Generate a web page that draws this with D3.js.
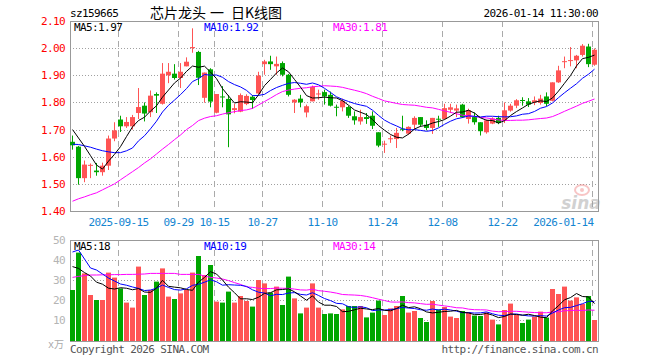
<!DOCTYPE html>
<html lang="zh-CN">
<head>
<meta charset="UTF-8">
<title>芯片龙头 日K线图</title>
<script src="https://cdn.jsdelivr.net/npm/d3@7"></script>
<style>
    body {
        margin: 0;
        background-color: #fff;
    }

    svg {
        display: block;
    }

    .mono {
        font-family: 'DejaVu Sans Mono', monospace;
        font-size: 11px;
        letter-spacing: -0.6px;
    }
</style>
</head>
<body>
<svg id="chart" width="660" height="360"></svg>
<script>
    // daily candles, 2025-09-03 .. 2026-01-14 (88 trading days)
    const opens = [1.655, 1.637, 1.521, 1.568, 1.549, 1.543, 1.567, 1.667, 1.737, 1.712,
        1.712, 1.761, 1.788, 1.764, 1.831, 1.795, 1.900, 1.906, 1.890, 1.933,
        2.000, 1.986, 1.817, 1.922, 1.762, 1.822, 1.813, 1.772, 1.766, 1.794,
        1.821, 1.833, 1.941, 1.951, 1.933, 1.945, 1.902, 1.800, 1.814, 1.763,
        1.804, 1.830, 1.838, 1.828, 1.784, 1.782, 1.783, 1.749, 1.730, 1.746,
        1.751, 1.690, 1.646, 1.666, 1.665, 1.703, 1.685, 1.718, 1.746, 1.718,
        1.706, 1.740, 1.739, 1.773, 1.770, 1.792, 1.739, 1.746, 1.727, 1.690,
        1.722, 1.743, 1.734, 1.770, 1.788, 1.809, 1.804, 1.800, 1.798, 1.822,
        1.806, 1.874, 1.950, 1.954, 1.955, 1.975, 2.006, 1.939];
    const highs = [1.678, 1.640, 1.586, 1.575, 1.577, 1.578, 1.678, 1.727, 1.751, 1.746,
        1.754, 1.853, 1.800, 1.844, 1.837, 1.945, 1.945, 1.941, 1.945, 1.966,
        2.073, 1.990, 1.910, 1.926, 1.831, 1.860, 1.827, 1.795, 1.833, 1.830,
        1.827, 1.913, 1.957, 1.972, 1.969, 1.951, 1.905, 1.812, 1.828, 1.792,
        1.862, 1.847, 1.847, 1.840, 1.792, 1.814, 1.788, 1.767, 1.773, 1.761,
        1.767, 1.690, 1.659, 1.678, 1.706, 1.751, 1.712, 1.749, 1.746, 1.734,
        1.743, 1.751, 1.795, 1.795, 1.792, 1.795, 1.777, 1.763, 1.727, 1.737,
        1.745, 1.751, 1.800, 1.795, 1.812, 1.819, 1.816, 1.822, 1.828, 1.837,
        1.874, 1.935, 1.969, 2.004, 1.975, 2.015, 2.016, 1.999];
    const lows = [1.626, 1.497, 1.506, 1.521, 1.530, 1.530, 1.551, 1.657, 1.691, 1.706,
        1.700, 1.739, 1.730, 1.746, 1.761, 1.792, 1.871, 1.884, 1.853, 1.933,
        1.983, 1.864, 1.799, 1.782, 1.760, 1.782, 1.635, 1.760, 1.764, 1.790,
        1.776, 1.830, 1.902, 1.920, 1.902, 1.896, 1.822, 1.761, 1.782, 1.745,
        1.804, 1.810, 1.792, 1.785, 1.749, 1.767, 1.743, 1.718, 1.718, 1.721,
        1.702, 1.635, 1.614, 1.651, 1.632, 1.694, 1.681, 1.700, 1.710, 1.697,
        1.684, 1.710, 1.737, 1.761, 1.746, 1.743, 1.722, 1.718, 1.678, 1.685,
        1.720, 1.720, 1.724, 1.766, 1.779, 1.788, 1.783, 1.790, 1.792, 1.786,
        1.804, 1.872, 1.926, 1.933, 1.926, 1.969, 1.930, 1.935];
    const closes = [1.642, 1.521, 1.571, 1.570, 1.543, 1.567, 1.667, 1.697, 1.712, 1.728,
        1.746, 1.783, 1.759, 1.825, 1.825, 1.906, 1.913, 1.890, 1.913, 1.950,
        2.004, 1.891, 1.910, 1.803, 1.831, 1.820, 1.756, 1.779, 1.827, 1.824,
        1.809, 1.899, 1.951, 1.941, 1.942, 1.902, 1.828, 1.810, 1.800, 1.786,
        1.857, 1.833, 1.822, 1.788, 1.782, 1.806, 1.751, 1.734, 1.746, 1.739,
        1.714, 1.641, 1.648, 1.668, 1.688, 1.701, 1.710, 1.743, 1.718, 1.706,
        1.743, 1.738, 1.779, 1.782, 1.778, 1.746, 1.771, 1.727, 1.694, 1.734,
        1.741, 1.724, 1.771, 1.788, 1.808, 1.807, 1.792, 1.808, 1.814, 1.795,
        1.874, 1.918, 1.952, 1.956, 1.972, 2.009, 1.941, 1.994];
    // volume, 万
    const volumes = [25, 43.7, 33.3, 22.5, 20, 20, 33.7, 31.2, 25.8, 18.7,
        16.2, 36.7, 22.5, 25, 29.2, 35.8, 21.7, 20.5, 23.3, 25,
        33.7, 42, 32.5, 37.5, 19.2, 18.7, 24.2, 18.7, 22, 19.5,
        16.7, 30, 28.3, 23.7, 26.7, 17.5, 31.7, 20.8, 13.3, 16.2,
        28.3, 16.2, 13, 13.3, 13, 15.3, 17, 17, 17, 11.3,
        13.7, 19.7, 12.5, 15.8, 17, 22, 13.7, 14.5, 11, 9,
        19.5, 15.3, 16.5, 11.7, 11, 14.5, 14, 12.2, 12, 13.8,
        10.2, 7.8, 15, 18.2, 12.5, 8.5, 10.2, 11.7, 14.2, 11.2,
        25.5, 23, 26.7, 19.7, 21.3, 18, 22, 10];

    // moving average values at the left edge (window reaches before the first candle)
    const ma5Lead = [1.700, 1.669, 1.638, 1.604];
    const ma10Lead = [1.646, 1.645, 1.640, 1.635, 1.628, 1.622, 1.618, 1.615, 1.615];
    const ma30Lead = [1.436, 1.445, 1.452, 1.460, 1.467, 1.478, 1.489, 1.500, 1.515, 1.530,
        1.545, 1.560, 1.577, 1.592, 1.610, 1.628, 1.645, 1.663, 1.680, 1.700,
        1.715, 1.733, 1.742, 1.748, 1.751, 1.757, 1.762, 1.766, 1.770];
    const volMa5Lead = [36.7, 35.8, 33.7, 32];
    const volMa10Lead = [44, 45, 40.5, 36, 35, 33, 31, 29.5, 28];
    const volMa30Lead = [31.3, 31.8, 32.2, 32.5, 32.5, 32.6, 32.6, 32.7, 32.7, 32.8,
        32.8, 32.9, 33, 33.3, 33.3, 33.3, 33.3, 33.3, 32.8, 32.8,
        32.8, 32.8, 32, 31.3, 31, 30.5, 29.7, 28.7, 27.8];

    const priceTicks = [2.10, 2.00, 1.90, 1.80, 1.70, 1.60, 1.50, 1.40];
    const volTicks = [50, 40, 30, 20, 10];
    const dateTickIndex = [8, 18, 24, 32, 42, 52, 62, 72, 87];
    const dateTickLabels = ["2025-09-15", "09-29", "10-15", "10-27", "11-10", "11-24", "12-08", "12-22", "2026-01-14"];

    const stockCode = "sz159665";
    const title = ["芯片龙头", "一", "日K线图"];
    const stamp = "2026-01-14 11:30:00";

    const UP = "#ff5454", DOWN = "#00a600";
    const MA_COLORS = ["#000", "#0000ff", "#ff00ff"];

    const left = 70, right = 598;
    const pTop = 21, pBottom = 211;
    const vTop = 240, vBottom = 341;

    const svg = d3.select("#chart");

    const x = d3.scaleLinear().domain([0, closes.length - 1]).range([72.5, 594.5]);
    const y = d3.scaleLinear().domain([1.40, 2.10]).range([pBottom, pTop]);
    const yv = d3.scaleLinear().domain([0, 50]).range([340, vTop]);

    function movingAvg(values, n, lead) {
        return values.map((v, i) => i < n - 1 ? lead[i] : d3.mean(values.slice(i - n + 1, i + 1)));
    }

    const ma5 = movingAvg(closes, 5, ma5Lead);
    const ma10 = movingAvg(closes, 10, ma10Lead);
    const ma30 = movingAvg(closes, 30, ma30Lead);
    const vma5 = movingAvg(volumes, 5, volMa5Lead);
    const vma10 = movingAvg(volumes, 10, volMa10Lead);
    const vma30 = movingAvg(volumes, 30, volMa30Lead);

    const isUp = i => closes[i] >= opens[i];

    // header
    svg.append("text").attr("class", "mono")
        .attr("x", left).attr("y", 17)
        .text(stockCode);
    svg.append("g")
        .attr("font-family", "'Noto Sans CJK SC', sans-serif")
        .attr("font-size", "14px")
        .selectAll("text")
        .data(title)
        .join("text")
        .attr("x", (d, i) => [150, 210, 231][i])
        .attr("y", 18)
        .text(d => d);
    svg.append("text").attr("class", "mono")
        .attr("x", right).attr("y", 17)
        .attr("text-anchor", "end")
        .text(stamp);

    // grids
    const grid = svg.append("g");
    grid.selectAll(".hp")
        .data(priceTicks.slice(1, -1))
        .join("line")
        .attr("x1", left).attr("x2", right)
        .attr("y1", d => Math.round(y(d)) + 0.5).attr("y2", d => Math.round(y(d)) + 0.5)
        .attr("stroke", "#a0a0a0").attr("stroke-dasharray", "1,2");
    grid.selectAll(".hv")
        .data(volTicks.slice(1))
        .join("line")
        .attr("x1", left).attr("x2", right)
        .attr("y1", d => Math.round(yv(d)) + 0.5).attr("y2", d => Math.round(yv(d)) + 0.5)
        .attr("stroke", "#a0a0a0").attr("stroke-dasharray", "1,2");
    [[pTop, pBottom], [vTop, vBottom]].forEach(([t, b]) => {
        grid.append("g").selectAll("line")
            .data(dateTickIndex)
            .join("line")
            .attr("x1", d => x(d) - 2).attr("x2", d => x(d) - 2)
            .attr("y1", t).attr("y2", b)
            .attr("stroke", "#aaa").attr("stroke-dasharray", "6,4");
    });

    // frames
    svg.append("rect")
        .attr("x", left + 0.5).attr("y", pTop + 0.5)
        .attr("width", right - left).attr("height", pBottom - pTop)
        .attr("fill", "none").attr("stroke", "#999");
    svg.append("rect")
        .attr("x", left + 0.5).attr("y", vTop + 0.5)
        .attr("width", right - left).attr("height", vBottom - vTop)
        .attr("fill", "none").attr("stroke", "#999");

    // watermark
    const wm = svg.append("g").attr("opacity", 0.45);
    wm.append("ellipse")
        .attr("cx", 582).attr("cy", 190).attr("rx", 7).attr("ry", 5)
        .attr("fill", "none").attr("stroke", "#f08080").attr("stroke-width", 2);
    wm.append("circle")
        .attr("cx", 582).attr("cy", 190).attr("r", 2)
        .attr("fill", "#f08080");
    wm.append("text")
        .attr("x", 581).attr("y", 209)
        .attr("text-anchor", "middle")
        .attr("font-family", "'DejaVu Sans', sans-serif")
        .attr("font-size", "17px").attr("font-weight", "bold").attr("font-style", "italic")
        .attr("fill", "#9a9a9a")
        .text("sina");

    // axis labels
    const fmt2 = d3.format(".2f");
    svg.append("g").selectAll("text")
        .data(priceTicks)
        .join("text")
        .attr("class", "mono")
        .attr("x", 65)
        .attr("y", d => y(d) + 4)
        .attr("text-anchor", "end")
        .attr("fill", "#ff0000")
        .text(d => fmt2(d));
    svg.append("g").selectAll("text")
        .data(volTicks)
        .join("text")
        .attr("class", "mono")
        .attr("x", 65)
        .attr("y", d => yv(d) + 4)
        .attr("text-anchor", "end")
        .attr("fill", "#b4b4b4")
        .text(d => d);

    svg.append("text")
        .attr("x", 64).attr("y", 348)
        .attr("text-anchor", "end")
        .attr("font-family", "'DejaVu Sans Mono', 'Noto Sans CJK SC', monospace")
        .attr("font-size", "10px")
        .attr("fill", "#aaa")
        .text("x万");

    svg.append("g").selectAll("text")
        .data(dateTickIndex)
        .join("text")
        .attr("class", "mono")
        .attr("x", (d, i) => i === dateTickIndex.length - 1 ? x(d) - 1 : x(d) - 2)
        .attr("y", 226)
        .attr("text-anchor", (d, i) => i === dateTickIndex.length - 1 ? "end" : "middle")
        .attr("fill", "#1485d1")
        .text((d, i) => dateTickLabels[i]);

    // candles
    const candles = svg.append("g");
    candles.selectAll("line")
        .data(closes)
        .join("line")
        .attr("x1", (d, i) => x(i)).attr("x2", (d, i) => x(i))
        .attr("y1", (d, i) => y(highs[i])).attr("y2", (d, i) => y(lows[i]))
        .attr("stroke", (d, i) => isUp(i) ? UP : DOWN);
    candles.selectAll("rect")
        .data(closes)
        .join("rect")
        .attr("x", (d, i) => x(i) - 2.5)
        .attr("width", 5)
        .attr("y", (d, i) => y(Math.max(opens[i], closes[i])))
        .attr("height", (d, i) => Math.max(1, Math.abs(y(opens[i]) - y(closes[i]))))
        .attr("fill", (d, i) => isUp(i) ? UP : DOWN);

    // volume bars
    svg.append("g").selectAll("rect")
        .data(volumes)
        .join("rect")
        .attr("x", (d, i) => x(i) - 2.5)
        .attr("width", 5)
        .attr("y", d => yv(d))
        .attr("height", d => vBottom - yv(d))
        .attr("fill", (d, i) => isUp(i) ? UP : DOWN);

    // moving average lines
    const priceLine = d3.line().x((d, i) => x(i)).y(d => y(d));
    const volLine = d3.line().x((d, i) => x(i)).y(d => yv(d));
    [ma30, ma10, ma5].forEach((s, k) => {
        svg.append("path").datum(s)
            .attr("d", priceLine)
            .attr("fill", "none")
            .attr("stroke", MA_COLORS[2 - k]).attr("stroke-width", 1);
    });
    [vma30, vma10, vma5].forEach((s, k) => {
        svg.append("path").datum(s)
            .attr("d", volLine)
            .attr("fill", "none")
            .attr("stroke", MA_COLORS[2 - k]).attr("stroke-width", 1);
    });

    // legends (volume values shown as whole 万, truncated)
    const last = closes.length - 1;
    const legendX = [74, 204, 333];
    [["MA5:", ma5[last]], ["MA10:", ma10[last]], ["MA30:", ma30[last]]].forEach(([k, v], i) => {
        svg.append("text").attr("class", "mono")
            .attr("x", legendX[i]).attr("y", 31)
            .attr("fill", MA_COLORS[i])
            .text(k + fmt2(v));
    });
    [["MA5:", vma5[last]], ["MA10:", vma10[last]], ["MA30:", vma30[last]]].forEach(([k, v], i) => {
        svg.append("text").attr("class", "mono")
            .attr("x", legendX[i]).attr("y", 250)
            .attr("fill", MA_COLORS[i])
            .text(k + Math.floor(v));
    });

    // footer
    svg.append("text").attr("class", "mono")
        .attr("x", left).attr("y", 353)
        .attr("fill", "#555")
        .text("Copyright 2026 SINA.COM");
    svg.append("text").attr("class", "mono")
        .attr("x", right).attr("y", 353)
        .attr("text-anchor", "end")
        .attr("fill", "#555")
        .text("http://finance.sina.com.cn");
</script>
</body>
</html>
